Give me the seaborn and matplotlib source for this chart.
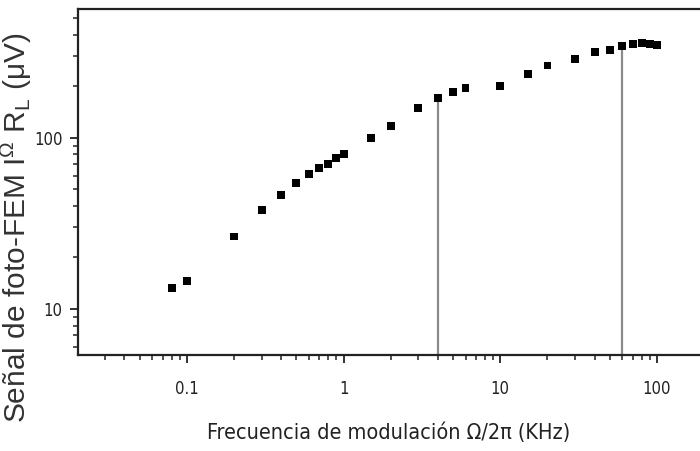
import matplotlib
matplotlib.use("Agg")
import matplotlib.pyplot as plt
from matplotlib import font_manager
from matplotlib.font_manager import FontProperties
from matplotlib.ticker import LogLocator, NullFormatter, FixedLocator, FixedFormatter
import seaborn as sns
import pandas as pd
import numpy as np

# ---- data ----
freq_khz = [0.08, 0.1, 0.2, 0.3, 0.4, 0.5, 0.6, 0.7, 0.8, 0.9, 1.0,
            1.5, 2, 3, 4, 5, 6, 10, 15, 20, 30, 40, 50, 60, 70, 80, 90, 100]
signal_uv = [13.2, 14.6, 26.5, 37.9, 46.3, 54.3, 61.8, 67.0, 70.7, 76.7, 80.5,
             99.6, 117.5, 149, 170.6, 186.6, 195.4, 201, 236.6, 264.9, 288.6,
             316.9, 328, 346, 355.8, 360.6, 353, 350]
cutoff_freqs = [4, 60]
x_tick_values = [0.1, 1, 10, 100]
x_tick_labels = ["0.1", "1", "10", "100"]
y_tick_values = [10, 100]
y_tick_labels = ["10", "100"]

sns.set_style("ticks")
regular = "Liberation Sans"
plt.rcParams["font.family"] = [regular, "DejaVu Sans"]
plt.rcParams["mathtext.fontset"] = "custom"
plt.rcParams["mathtext.rm"] = regular
plt.rcParams["mathtext.it"] = regular

# try to find a condensed face for axis numbers / x label
narrow_props = None
for fam in ["Liberation Sans Narrow", "DejaVu Sans"]:
    try:
        fp = FontProperties(family=fam, stretch="condensed")
        path = font_manager.findfont(fp, fallback_to_default=False)
        if "Narrow" in path or "Condensed" in path:
            narrow_props = fp
            break
    except Exception:
        pass
if narrow_props is None:
    tick_size, xlab_size = 11.5, 15
    tick_kw = dict(family=[regular, "DejaVu Sans"])
else:
    tick_size, xlab_size = 12, 15.5
    tick_kw = dict(family=[narrow_props.get_family()[0], "DejaVu Sans"], stretch="condensed")

df = pd.DataFrame({"freq": freq_khz, "signal": signal_uv})

fig = plt.figure(figsize=(7.0, 4.51), dpi=100)
ax = fig.add_axes([0.1114, 0.2129, 0.8886, 0.7671])

ax.set_xscale("log")
ax.set_yscale("log")
ax.set_xlim(0.0202, 188)
ax.set_ylim(5.38, 567)

# vertical marker lines from bottom to the data points
ymin = ax.get_ylim()[0]
for cf in cutoff_freqs:
    yv = df.loc[df["freq"] == cf, "signal"].iloc[0]
    ax.vlines(cf, ymin, yv, color="#8a8a8a", linewidth=1.6, zorder=2)

sns.scatterplot(data=df, x="freq", y="signal", marker="s", color="black",
                s=32, edgecolor="none", ax=ax, zorder=3)

for side in ["left", "bottom", "top"]:
    ax.spines[side].set_linewidth(1.6)
    ax.spines[side].set_color("#222222")
ax.spines["right"].set_visible(False)

ax.xaxis.set_major_locator(FixedLocator(x_tick_values))
ax.xaxis.set_major_formatter(FixedFormatter(x_tick_labels))
ax.yaxis.set_major_locator(FixedLocator(y_tick_values))
ax.yaxis.set_major_formatter(FixedFormatter(y_tick_labels))
ax.xaxis.set_minor_locator(LogLocator(base=10, subs=np.arange(2, 10), numticks=20))
ax.yaxis.set_minor_locator(LogLocator(base=10, subs=np.arange(2, 10), numticks=20))
ax.xaxis.set_minor_formatter(NullFormatter())
ax.yaxis.set_minor_formatter(NullFormatter())

ax.tick_params(which="major", direction="out", length=6, width=1.3,
               color="#222222", labelsize=tick_size)
ax.tick_params(axis="x", which="major", pad=12)
ax.tick_params(axis="y", which="major", pad=5)
ax.tick_params(which="minor", direction="out", length=3.5, width=1.1,
               color="#222222")
ax.tick_params(top=False, right=False, which="both")
for lbl in ax.get_xticklabels() + ax.get_yticklabels():
    lbl.set(**tick_kw)
    lbl.set_color("#222222")

ax.set_xlabel("Frecuencia de modulación Ω/2π (KHz)", fontsize=xlab_size,
              color="#222222", labelpad=18, **tick_kw)
ax.set_ylabel(r"Señal de foto-FEM I$^{\mathregular{Ω}}$ R$_{\mathregular{L}}$ (μV)",
              fontsize=21.5, color="#333333", family=[regular, "DejaVu Sans"])
ax.yaxis.set_label_coords(-0.071, 0.367)

fig.savefig("out.png", dpi=100)
